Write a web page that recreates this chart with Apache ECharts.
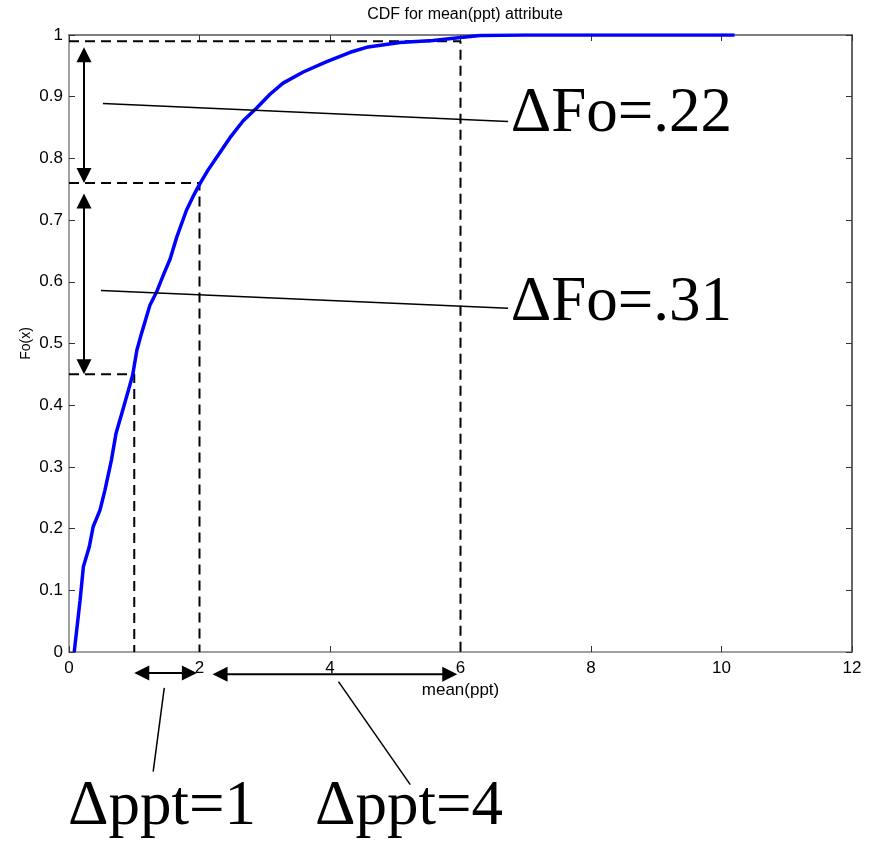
<!DOCTYPE html>
<html>
<head>
<meta charset="utf-8">
<script src="https://cdn.jsdelivr.net/npm/echarts@6/dist/echarts.min.js"></script>
<style>
  html, body { margin: 0; padding: 0; background: #fff; }
  #main { width: 872px; height: 842px; }
</style>
</head>
<body>
<div id="main"></div>
<script>
// CDF curve
const cdfX = [0.08, 0.17, 0.22, 0.31, 0.37, 0.475, 0.55, 0.65, 0.72, 0.81, 0.91, 0.976, 1.04, 1.11, 1.24, 1.34, 1.45, 1.55, 1.65, 1.80, 1.90, 2.0, 2.13, 2.29, 2.47, 2.67, 2.88, 3.08, 3.28, 3.59, 3.95, 4.31, 4.56, 5.07, 5.58, 6.0, 6.3, 7.0, 8.0, 10.2]
const cdfY = [0, 0.084, 0.138, 0.17, 0.203, 0.23, 0.262, 0.311, 0.354, 0.387, 0.424, 0.449, 0.489, 0.516, 0.562, 0.583, 0.612, 0.637, 0.672, 0.716, 0.738, 0.758, 0.781, 0.806, 0.834, 0.861, 0.882, 0.904, 0.922, 0.940, 0.957, 0.972, 0.980, 0.988, 0.991, 0.996, 0.999, 1.0, 1.0, 1.0]

// dashed guide lines (x, y pairs)
const guide1 = [[0, 0.99], [6, 0.99], [6, 0]]
const guide2 = [[0, 0.76], [2, 0.76], [2, 0]]
const guide3 = [[0, 0.45], [1, 0.45], [1, 0]]

// double arrows [from, to] in data units
const arrows = [
  [[0.23, 0.98], [0.23, 0.76]],
  [[0.23, 0.743], [0.23, 0.45]],
  [[1.0, -0.034], [1.96, -0.034]],
  [[2.2, -0.036], [5.95, -0.036]],
]
// leader lines
const leaders = [
  [[0.52, 0.889], [6.73, 0.86]],
  [[0.49, 0.586], [6.73, 0.557]],
  [[1.46, -0.058], [1.29, -0.194]],
  [[4.13, -0.048], [5.23, -0.215]],
]
// big labels: text, left x, middle y
const notes = [
  ['\u0394Fo=.22', 6.77, 0.871],
  ['\u0394Fo=.31', 6.77, 0.565],
  ['\u0394ppt=1', -0.015, -0.252],
  ['\u0394ppt=4', 3.77, -0.252],
]

const xTicks = [0, 2, 4, 6, 8, 10, 12]

let chart = echarts.init(document.getElementById('main'))

const dashStyle = { color: '#000', width: 2, type: [10, 6] }
function guideSeries(data) {
  return {
    type: 'line',
    data: data,
    symbol: 'none',
    lineStyle: dashStyle,
    silent: true,
    z: 2,
  }
}

let option = {
  animation: false,
  title: {
    text: 'CDF for mean(ppt) attribute',
    left: 460,
    top: 2,
    textAlign: 'center',
    textStyle: { fontSize: 16, fontWeight: 'normal', color: '#000', fontFamily: 'Liberation Sans, Arial' },
  },
  grid: { left: 69, right: 20, top: 35, bottom: 190 },
  xAxis: [
    {
      type: 'value',
      min: 0,
      max: 12,
      interval: 2,
      name: 'mean(ppt)',
      nameLocation: 'middle',
      nameGap: 30,
      nameTextStyle: { fontSize: 17, color: '#000', fontFamily: 'Liberation Sans, Arial' },
      axisLine: { onZero: false, lineStyle: { color: '#808080', width: 1.5 } },
      axisTick: { inside: true, length: 6, lineStyle: { color: '#333' } },
      axisLabel: {
        fontSize: 17, color: '#000', margin: 8, fontFamily: 'Liberation Sans, Arial',
        formatter: (v) => (xTicks.indexOf(v) >= 0 ? String(v) : ''),
      },
      splitLine: { show: false },
    },
    {
      type: 'value',
      position: 'top',
      min: 0,
      max: 12,
      interval: 2,
      axisLine: { onZero: false, lineStyle: { color: '#555', width: 1.5 } },
      axisTick: { inside: true, length: 6, lineStyle: { color: '#333' } },
      axisLabel: { show: false },
      splitLine: { show: false },
    },
  ],
  yAxis: [
    {
      type: 'value',
      min: 0,
      max: 1,
      interval: 0.1,
      name: 'Fo(x)',
      nameLocation: 'middle',
      nameGap: 36,
      nameMoveOverlap: false,
      nameTextStyle: { fontSize: 14, color: '#000', fontFamily: 'Liberation Sans, Arial' },
      axisLine: { onZero: false, lineStyle: { color: '#808080', width: 1.5 } },
      axisTick: { inside: true, length: 6, lineStyle: { color: '#333' } },
      axisLabel: {
        fontSize: 17, color: '#000', margin: 6, fontFamily: 'Liberation Sans, Arial',
        formatter: (v) => String(Math.round(v * 10) / 10),
      },
      splitLine: { show: false },
    },
    {
      type: 'value',
      position: 'right',
      min: 0,
      max: 1,
      interval: 0.1,
      axisLine: { onZero: false, lineStyle: { color: '#333', width: 1.5 } },
      axisTick: { inside: true, length: 6, lineStyle: { color: '#333' } },
      axisLabel: { show: false },
      splitLine: { show: false },
    },
  ],
  series: [
    guideSeries(guide1),
    guideSeries(guide2),
    guideSeries(guide3),
    {
      name: 'CDF',
      type: 'line',
      data: cdfX.map((x, i) => [x, cdfY[i]]),
      symbol: 'none',
      lineStyle: { color: '#0000ff', width: 3.5 },
      z: 3,
    },
  ],
}
chart.setOption(option)

// annotations, placed through the axes
function px(p) {
  return chart.convertToPixel({ xAxisIndex: 0, yAxisIndex: 0 }, p)
}
function head(tip, ux, uy) {
  let L = 15, W = 7.5
  let bx = tip[0] - ux * L, by = tip[1] - uy * L
  return {
    type: 'polygon',
    shape: { points: [tip, [bx - uy * W, by + ux * W], [bx + uy * W, by - ux * W]] },
    style: { fill: '#000' },
    z: 10,
  }
}
let graphics = []
arrows.forEach((a) => {
  let p0 = px(a[0]), p1 = px(a[1])
  let dx = p1[0] - p0[0], dy = p1[1] - p0[1]
  let len = Math.sqrt(dx * dx + dy * dy)
  let ux = dx / len, uy = dy / len
  graphics.push({
    type: 'line',
    shape: { x1: p0[0] + ux * 10, y1: p0[1] + uy * 10, x2: p1[0] - ux * 10, y2: p1[1] - uy * 10 },
    style: { stroke: '#000', lineWidth: 2 },
    z: 10,
  })
  graphics.push(head(p1, ux, uy))
  graphics.push(head(p0, -ux, -uy))
})
leaders.forEach((l) => {
  let p0 = px(l[0]), p1 = px(l[1])
  graphics.push({
    type: 'line',
    shape: { x1: p0[0], y1: p0[1], x2: p1[0], y2: p1[1] },
    style: { stroke: '#000', lineWidth: 1.5 },
    z: 10,
  })
})
notes.forEach((n) => {
  let p = px([n[1], n[2]])
  graphics.push({
    type: 'text',
    x: p[0],
    y: p[1],
    style: {
      text: n[0],
      fill: '#000',
      font: '63px "Liberation Serif", "Times New Roman", serif',
      align: 'left',
      verticalAlign: 'middle',
    },
    z: 10,
  })
})
chart.setOption({ graphic: graphics })
</script>
</body>
</html>
